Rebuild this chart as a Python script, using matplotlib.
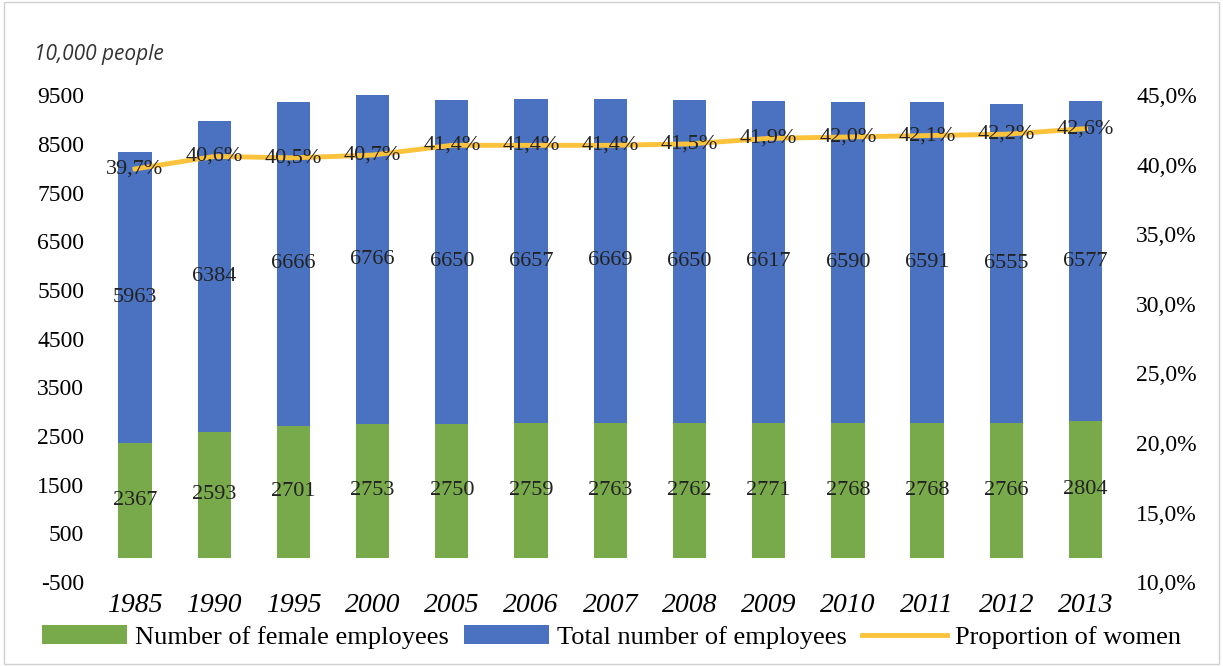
import matplotlib.pyplot as plt
from matplotlib.patches import Rectangle

years = ['1985', '1990', '1995', '2000', '2005', '2006', '2007', '2008', '2009', '2010', '2011', '2012', '2013']
female = [2367, 2593, 2701, 2753, 2750, 2759, 2763, 2762, 2771, 2768, 2768, 2766, 2804]
total = [5963, 6384, 6666, 6766, 6650, 6657, 6669, 6650, 6617, 6590, 6591, 6555, 6577]
share = [39.7, 40.6, 40.5, 40.7, 41.4, 41.4, 41.4, 41.5, 41.9, 42.0, 42.1, 42.2, 42.6]

green = '#78a94b'
blue = '#4a72c0'
yellow = '#fbc23c'
serif = 'Liberation Serif'
plt.rcParams['axes.unicode_minus'] = False

fig = plt.figure(figsize=(12.23, 6.66), dpi=100)
fig.patches.append(Rectangle((0.003, 0.003), 0.994, 0.994, transform=fig.transFigure,
                             fill=False, edgecolor='#d0d0d0', linewidth=1))
ax = fig.add_axes([0.078, 0.126, 0.842, 0.731])
x = range(len(years))
ax.bar(x, female, width=0.42, color=green, label='Number of female employees', zorder=2)
ax.bar(x, total, width=0.42, bottom=female, color=blue, label='Total number of employees', zorder=2)
for i in x:
    ax.text(i, female[i] / 2, str(female[i]), ha='center', va='center', fontsize=16, family=serif, color='#222222', zorder=5)
    ax.text(i, female[i] + total[i] / 2, str(total[i]), ha='center', va='center', fontsize=16, family=serif, color='#222222', zorder=5)

ax.set_ylim(-500, 9500)
ax.set_yticks(range(-500, 9501, 1000))
ax.set_xlim(-0.5, len(years) - 0.5)
ax.set_xticks(list(x))
ax.set_xticklabels(years, fontsize=20, family=serif, style='italic')
for lab in ax.get_yticklabels():
    lab.set_family(serif)
    lab.set_fontsize(17)
ax.tick_params(length=0, pad=8)
for s in ax.spines.values():
    s.set_visible(False)

ax2 = ax.twinx()
ax2.plot(list(x), share, color=yellow, linewidth=3.5, label='Proportion of women', zorder=3)
for i in x:
    ax2.text(i, share[i], f'{share[i]:.1f}%'.replace('.', ','), ha='center', va='center',
             fontsize=16, family=serif, color='#222222', zorder=5)
ax2.set_ylim(10, 45)
ax2.set_yticks(range(10, 46, 5))
ax2.set_yticklabels([f'{v},0%' for v in range(10, 46, 5)], fontsize=17, family=serif)
ax2.tick_params(length=0, pad=8)
for s in ax2.spines.values():
    s.set_visible(False)

fig.text(0.028, 0.91, '10,000 people', fontsize=15, style='italic', family='Open Sans', color='#333333')

h1, l1 = ax.get_legend_handles_labels()
h2, l2 = ax2.get_legend_handles_labels()
fig.legend(h1 + h2, l1 + l2, loc='lower center', bbox_to_anchor=(0.5, -0.01), ncol=3, frameon=False,
           prop={'family': serif, 'size': 19}, handlelength=3.2, columnspacing=0.6, handletextpad=0.3)

fig.savefig('out.png', dpi=100)
